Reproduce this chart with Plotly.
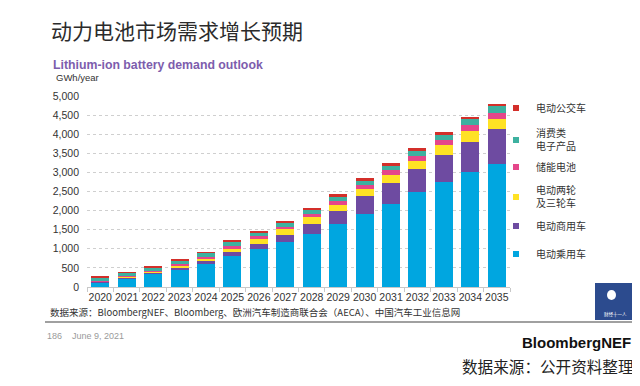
import plotly.graph_objects as go

# ---------------- data ----------------
years = [str(y) for y in range(2020, 2036)]
passenger = [130, 235, 350, 465, 615, 810, 1000, 1180, 1390, 1660, 1920, 2180, 2480, 2740, 3000, 3210]
commercial = [15, 15, 25, 40, 55, 95, 120, 180, 250, 330, 455, 540, 600, 720, 800, 925]
two_three = [10, 15, 30, 60, 75, 95, 135, 150, 180, 168, 183, 210, 217, 255, 272, 270]
stationary = [10, 15, 20, 35, 45, 70, 80, 60, 80, 88, 113, 122, 130, 125, 157, 157]
consumer = [85, 90, 90, 95, 100, 100, 95, 110, 110, 113, 112, 122, 140, 145, 157, 167]
ebus = [12, 15, 15, 30, 25, 60, 40, 50, 60, 70, 63, 60, 60, 63, 68, 60]

series_names = ["电动乘用车", "电动商用车", "电动两轮<br>及三轮车", "储能电池", "消费类<br>电子产品", "电动公交车"]
series_values = [passenger, commercial, two_three, stationary, consumer, ebus]
series_colors = ["#00A6E0", "#6E4BA1", "#FFE224", "#E5468A", "#3DB1A0", "#D32F2A"]
legend_centers_px = [254, 226, 197, 167, 140, 108]  # legend row centres (window px from top)

y_tick_vals = [0, 500, 1000, 1500, 2000, 2500, 3000, 3500, 4000, 4500, 5000]
y_tick_text = ["0", "500", "1,000", "1,500", "2,000", "2,500", "3,000", "3,500", "4,000", "4,500", "5,000"]

# ---------------- layout geometry ----------------
# the page body has an 8px margin, so the figure is drawn 8px in from the window corner
OFF = 8
W, H = 640 - OFF, 386 - OFF
L, R, T, B = 87 - OFF, 510 - OFF, 96 - OFF, 287 - OFF


def px(x):
    """window x pixel -> paper x"""
    return (x - OFF - L) / (R - L)


def py(y):
    """window y pixel -> paper y"""
    return (B - (y - OFF)) / (B - T)


fig = go.Figure()
for name, vals, col in zip(series_names, series_values, series_colors):
    fig.add_trace(go.Bar(x=years, y=vals, name=name, marker=dict(color=col, line=dict(width=0)),
                         showlegend=False))

legend_layouts = {}
for i, (name, col, cy) in enumerate(zip(series_names, series_colors, legend_centers_px)):
    lname = "legend" if i == 0 else f"legend{i + 1}"
    fig.add_trace(go.Scatter(x=[None], y=[None], mode="markers", name=name,
                             marker=dict(symbol="square", size=6, color=col),
                             showlegend=True, legend=lname))
    legend_layouts[lname] = dict(
        x=px(496), y=py(cy), xanchor="left", yanchor="middle",
        bgcolor="rgba(0,0,0,0)", borderwidth=0,
        font=dict(family="Noto Sans CJK SC", size=10, color="#333333"),
        itemwidth=30, tracegroupgap=0,
    )

fig.update_layout(
    width=W, height=H,
    margin=dict(l=L, r=W - R, t=T, b=H - B, pad=0),
    paper_bgcolor="white", plot_bgcolor="white",
    barmode="stack", bargap=0.32,
    font=dict(family="Liberation Sans, Arial, sans-serif", size=10.5, color="#333333"),
    xaxis=dict(type="category", showgrid=False, showline=True, linecolor="#C8C8C8", linewidth=1,
               ticks="outside", tickson="boundaries", ticklen=4, tickcolor="#C8C8C8",
               tickangle=0, tickfont=dict(size=10.5, color="#333333"), fixedrange=True),
    yaxis=dict(range=[0, 5000], tickvals=y_tick_vals, ticktext=y_tick_text,
               showgrid=True, gridcolor="#CFCFCF", griddash="dot", gridwidth=1,
               zeroline=False, showline=False, ticks="", ticklabelstandoff=7,
               tickfont=dict(size=10.5, color="#333333")),
    **legend_layouts,
)

annotations = [
    dict(text="动力电池市场需求增长预期", x=px(49), y=py(30), xanchor="left", yanchor="middle",
         font=dict(family="Noto Sans CJK SC", size=21, color="#2b2b2b")),
    dict(text="<b>Lithium-ion battery demand outlook</b>", x=px(51), y=py(65), xanchor="left", yanchor="middle",
         font=dict(family="Liberation Sans, Arial", size=12.3, color="#7D5DAD")),
    dict(text="GWh/year", x=px(54), y=py(77), xanchor="left", yanchor="middle",
         font=dict(family="Liberation Sans, Arial", size=9.5, color="#333333")),
    dict(text="数据来源：BloombergNEF、Bloomberg、欧洲汽车制造商联合会（AECA）、中国汽车工业信息网",
         x=px(48), y=py(312), xanchor="left", yanchor="middle",
         font=dict(family="Noto Sans CJK SC", size=9.5, color="#333333")),
    dict(text="186    June 9, 2021", x=px(45), y=py(336), xanchor="left", yanchor="middle",
         font=dict(family="Liberation Sans, Arial", size=9, color="#9a9a9a")),
    dict(text="<b>BloombergNEF</b>", x=px(633), y=py(342), xanchor="right", yanchor="middle",
         font=dict(family="Liberation Sans, Arial", size=15, color="#111111")),
    dict(text="数据来源：公开资料整理", x=px(636), y=py(366), xanchor="right", yanchor="middle",
         font=dict(family="Noto Sans CJK SC", size=15.6, color="#222222")),
    dict(text="财经十一人", x=px(615), y=py(314), xanchor="center", yanchor="middle",
         font=dict(family="Noto Sans CJK SC", size=4.5, color="#ffffff")),
]
for a in annotations:
    a.update(xref="paper", yref="paper", showarrow=False)
fig.update_layout(annotations=annotations)

fig.add_shape(type="line", xref="paper", yref="paper", x0=px(45), x1=px(636), y0=py(322), y1=py(322),
              line=dict(color="#A0A0A0", width=2))
fig.add_shape(type="rect", xref="paper", yref="paper", x0=px(595), x1=px(636), y0=py(283), y1=py(320),
              fillcolor="#2C4B8E", line=dict(width=0))
fig.add_shape(type="circle", xref="paper", yref="paper", x0=px(607), x1=px(616), y0=py(290), y1=py(300),
              fillcolor="#ffffff", line=dict(width=0))

fig.write_html("out.html")
